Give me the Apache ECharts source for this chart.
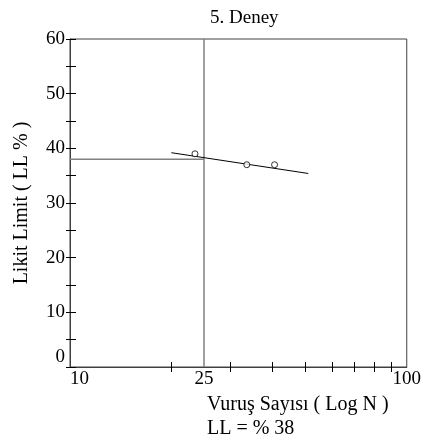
<!DOCTYPE html>
<html>
<head>
<meta charset="utf-8">
<script src="https://cdn.jsdelivr.net/npm/echarts@6/dist/echarts.min.js"></script>
<style>
  html, body { margin: 0; padding: 0; background: #fff; }
  #chart { width: 424px; height: 446px; }
</style>
</head>
<body>
<div id="chart"></div>
<script>
// test results (blow count N vs liquid limit %)
const blowCounts = [23.5, 33.5, 40.5]
const liquidLimits = [39, 37, 37]

// fitted flow line end points
const trendCounts = [20, 51]
const trendLimits = [39.2, 35.4]

// result read at 25 blows
const refBlows = 25
const llResult = 38

const xLabelValues = [10, 25, 100]
const xTickValues = [20, 30, 40, 50, 60, 70, 80, 90]

const font = "'Liberation Serif', 'Times New Roman', serif"
const frameColor = '#404040'
const refColor = '#808080'

const chart = echarts.init(document.getElementById('chart'))

const xBase = {
  type: 'log',
  logBase: 10,
  min: 10,
  max: 100,
  gridIndex: 0,
  position: 'bottom',
  splitLine: { show: false }
}

const yBase = {
  type: 'value',
  min: 0,
  max: 60,
  interval: 5,
  gridIndex: 0,
  position: 'left',
  splitLine: { show: false }
}

const option = {
  animation: false,
  backgroundColor: '#fff',
  title: {
    text: '5. Deney',
    left: 205,
    top: 4,
    textStyle: { fontFamily: font, fontSize: 19, fontWeight: 'normal', color: '#000' }
  },
  grid: {
    left: 70,
    right: 17,
    top: 39,
    bottom: 79,
    show: true,
    borderColor: frameColor,
    borderWidth: 1
  },
  xAxis: [
    {
      ...xBase,
      axisLine: { lineStyle: { color: frameColor } },
      axisTick: { inside: true, length: 5, customValues: xTickValues, lineStyle: { color: '#000' } },
      axisLabel: {
        customValues: xLabelValues,
        alignMinLabel: 'left',
        margin: 3,
        fontFamily: font,
        fontSize: 19,
        color: '#000'
      }
    },
    {
      ...xBase,
      axisLine: { show: false },
      axisTick: { inside: false, length: 5, customValues: xTickValues, lineStyle: { color: '#000' } },
      axisLabel: { show: false }
    }
  ],
  yAxis: [
    {
      ...yBase,
      name: 'Likit Limit ( LL % )',
      nameLocation: 'middle',
      nameGap: 38,
      nameTextStyle: { fontFamily: font, fontSize: 20, color: '#000' },
      axisLine: { lineStyle: { color: frameColor } },
      axisTick: { inside: true, length: 6, lineStyle: { color: '#000' } },
      axisLabel: {
        formatter: (v) => (v % 10 === 0 ? String(v) : ''),
        verticalAlignMinLabel: 'bottom',
        margin: 5,
        fontFamily: font,
        fontSize: 19,
        color: '#000'
      }
    },
    {
      ...yBase,
      axisLine: { show: false },
      axisTick: { inside: false, length: 4, lineStyle: { color: '#000' } },
      axisLabel: { show: false }
    }
  ],
  graphic: [
    {
      type: 'text',
      left: 207,
      top: 393,
      style: {
        text: 'Vuruş Sayısı ( Log N )\nLL = % ' + llResult,
        font: '20px ' + font,
        lineHeight: 24,
        fill: '#000'
      }
    }
  ],
  series: [
    {
      name: 'LL at 25',
      type: 'line',
      data: [[10, llResult], [refBlows, llResult]],
      symbol: 'none',
      lineStyle: { color: refColor, width: 1.5 },
      silent: true
    },
    {
      name: 'N = 25',
      type: 'line',
      data: [[refBlows, 0], [refBlows, 60]],
      symbol: 'none',
      lineStyle: { color: refColor, width: 1.5 },
      silent: true
    },
    {
      name: 'Flow line',
      type: 'line',
      data: trendCounts.map((n, i) => [n, trendLimits[i]]),
      symbol: 'none',
      lineStyle: { color: '#000', width: 1 }
    },
    {
      name: 'Tests',
      type: 'scatter',
      data: blowCounts.map((n, i) => [n, liquidLimits[i]]),
      symbol: 'circle',
      symbolSize: 6,
      itemStyle: { color: '#fff', borderColor: '#000', borderWidth: 1 },
      z: 5
    }
  ]
}

chart.setOption(option)
</script>
</body>
</html>
